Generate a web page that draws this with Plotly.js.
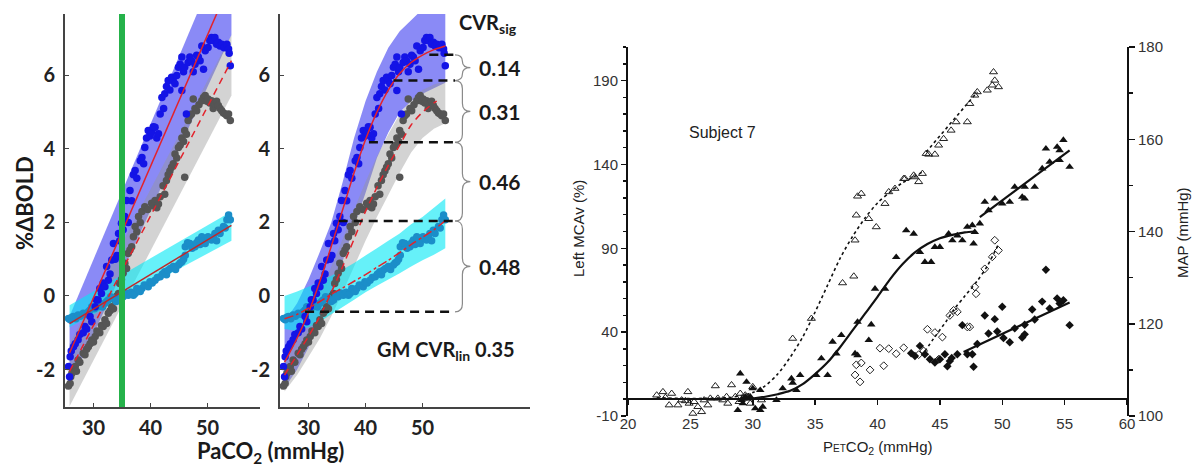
<!DOCTYPE html>
<html><head><meta charset="utf-8">
<script src="https://cdn.plot.ly/plotly-3.0.1.min.js"></script>
<style>html,body{margin:0;padding:0;background:#fff;} #chart{width:1198px;height:466px;}</style>
</head><body><div id="chart"></div>
<script>
// ---------------- Panels A/B : %ΔBOLD vs PaCO2 ----------------
const blueX = [25.6,25.8,25.9,26.1,26.5,26.8,27.3,27.6,28.2,28.5,28.8,29.4,29.7,30.3,30.5,30.8,31.1,31.4,31.7,32,32.3,32.6,32.9,33.2,33.5,33.8,34.1,34.4,34.6,34.9,35.2,35.5,35.8,36.1,36.4,36.7,37.0,37.3,37.6,38.2,38.5,38.8,39,39.3,39.6,39.9,40.2,40.5,40.8,41.1,41.4,41.7,42,42.3,42.5,42.8,43.1,43.4,43.7,44.0,44.3,44.6,44.9,45.2,45.5,45.5,45.8,46,46.3,46.6,46.9,47.2,47.5,47.8,48.1,48.4,48.7,49.0,49.3,49.6,50.1,50.4,50.7,51.0,51.3,51.6,51.9,52.2,52.5,52.9,53.4,53.7,54,53.8];
const blueY = [-1.92,-2.2,-1.65,-1.5,-1.38,-1.3,-1.19,-1.05,-1.0,-0.83,-0.9,-0.56,-0.7,-0.29,-0.1,-0.11,0.2,0.07,0.35,0.25,0.8,0.43,0.6,0.98,1.43,1.0,1.1,1.7,1.5,1.98,1.8,2.16,2.6,2.0,2.87,2.59,3.3,3.41,3.2,3.68,3.77,3.6,4.04,4.3,4.5,4.35,4.45,4.6,4.59,4.3,4.41,4.95,5.4,5.1,5.5,5.7,5.86,5.6,5.95,5.85,5.77,6.0,6.22,6.3,6.5,5.59,6.1,6.22,4.95,6.35,6.5,6.4,6.1,6.3,6.55,6.5,6.4,6.8,6.17,6.67,6.76,6.95,7.03,6.95,7.03,6.85,6.9,6.8,6.85,6.75,6.85,6.72,6.26,6.6];
const grayX = [25.6,25.9,26.0,26.2,26.5,26.8,27.0,27.3,27.6,28.2,28.5,28.8,29.1,29.4,29.7,30.0,30.3,30.6,31.1,31.4,31.7,32,32.3,32.6,32.9,33.2,33.5,33.8,34.1,34.4,34.6,34.9,35.2,35.5,35.8,36.1,36.4,36.7,37,37.3,37.6,37.9,38.2,38.5,39,39.5,40.2,40.5,40.8,41.1,41.4,41.7,42.2,42.5,42.8,43.1,43.4,43.7,44.0,44.3,44.6,44.9,45.2,45.5,45.8,46,46,46.3,46.6,46.9,47.2,47.5,47.8,48.1,48.5,49,49.3,49.6,49.9,50.1,50.4,50.7,51.0,51.3,51.6,51.9,52.2,52.5,52.8,53.1,53.4,53.7,54];
const grayY = [-2.45,-2.38,-2.2,-2.1,-2.0,-1.92,-2.05,-1.74,-1.8,-1.56,-1.6,-1.45,-1.38,-1.3,-1.2,-1.25,-1.1,-0.95,-1.0,-0.8,-0.83,-0.65,-0.75,-0.47,-0.4,-0.29,-0.35,-0.11,0.0,0.07,0.34,0.45,0.62,0.89,0.75,1.16,1.25,1.34,1.61,1.89,1.75,2.16,2.0,2.3,2.43,2.35,2.52,2.45,2.6,2.4,2.5,2.7,3.0,2.77,3.14,3.3,3.4,3.5,3.6,3.86,3.75,4.04,4.1,4.3,4.2,4.5,3.23,4.4,4.77,4.9,4.95,5.36,5.1,5.04,5.2,5.31,5.4,5.45,5.3,5.36,5.25,5.31,5.1,5.22,5.3,5.18,5.1,5.04,4.98,4.95,4.9,4.95,4.77];
const tealX = [25.6,25.9,26.2,26.5,26.9,27.3,27.7,28.2,28.6,29.1,29.4,29.7,30.2,30.8,31.3,31.6,32,32.3,32.6,33.0,33.5,34.0,34.4,34.8,35.2,35.6,36.1,36.6,37.0,37.3,37.6,37.9,38.2,38.5,38.9,39.3,39.6,39.9,40.3,40.8,41.2,41.7,42.1,42.5,42.8,43.1,43.5,44,44.4,44.9,45.2,45.5,45.8,46.1,46.1,46.5,46.9,47.3,47.8,48.1,48.4,48.7,49,49.3,49.6,50.1,50.4,50.7,51,51.3,51.6,51.9,52.2,52.8,53.1,53.4,53.7,54];
const tealY = [-0.61,-0.65,-0.58,-0.56,-0.62,-0.52,-0.55,-0.47,-0.5,-0.43,-0.38,-0.29,-0.35,-0.29,-0.22,-0.3,-0.2,-0.15,-0.11,-0.02,-0.06,-0.15,-0.11,0.0,-0.02,0.08,0.02,0.1,0.02,0.07,0.2,0.16,0.12,0.2,0.3,0.29,0.25,0.39,0.35,0.43,0.5,0.52,0.6,0.66,0.58,0.7,0.75,0.8,0.72,0.84,0.9,0.93,1.0,1.11,1.34,1.45,1.43,1.3,1.34,1.45,1.52,1.4,1.61,1.5,1.43,1.61,1.55,1.52,1.6,1.7,1.5,1.79,1.7,1.89,1.85,2.07,2.2,2.07];

// linear fits (panel A)
const linX = [25.8, 54.2];
const blueLin = [-1.55, 8.6];
const blueLinUp = [-0.55, 9.9];
const blueLinLo = [-2.45, 7.1];
const grayLin = [-2.05, 6.4];
const grayLinUp = [-1.3, 7.1];
const grayLinLo = [-3.0, 5.45];
const tealLin = [-0.75, 1.92];
const tealLinUp = [-0.25, 2.3];
const tealLinLo = [-0.85, 1.5];
const refPaCO2 = 35;

// sigmoid fits (panel B)
const sigX = [25.8,28,30,32,34,36,38,40,42,44,46,48,50,52,54];
const blueSig = [-1.8,-1.15,-0.45,0.4,1.35,2.35,3.35,4.25,5.0,5.6,6.05,6.35,6.55,6.7,6.8];
const blueSigUp = [-0.7,-0.2,0.45,1.2,2.0,3.1,4.3,5.3,6.1,6.75,7.2,7.5,7.8,8.0,8.1];
const blueSigLo = [-2.5,-2.0,-1.4,-0.7,0.0,0.95,1.9,2.8,3.75,4.45,5.0,5.3,5.5,5.65,5.8];
const graySigX = [25.8,28,30,32,34,36,38,40,42,44,46,48,50,52,52.5];
const graySig = [-2.15,-1.6,-1.1,-0.55,0.1,0.8,1.55,2.3,2.95,3.55,4.1,4.65,5.0,5.25,5.3];
const graySigBandX = [25.8,28,30,32,34,36,38,40,42,44,46,48,50,52,54];
const graySigUp = [-1.6,-1.05,-0.5,0.1,0.8,1.55,2.35,3.1,3.8,4.4,4.95,5.35,5.6,5.75,5.85];
const graySigLo = [-2.6,-2.15,-1.65,-1.15,-0.55,0.1,0.8,1.5,2.15,2.75,3.35,3.9,4.3,4.55,4.7];
const tealSig = [-0.62,-0.5,-0.33,-0.15,0.05,0.22,0.4,0.58,0.78,0.97,1.18,1.4,1.6,1.8,2.05];
const tealSigUp = [0.0,0.12,0.25,0.4,0.55,0.72,0.9,1.1,1.3,1.5,1.7,1.95,2.15,2.4,2.65];
const tealSigLo = [-0.9,-0.95,-0.85,-0.7,-0.5,-0.3,-0.1,0.1,0.28,0.45,0.62,0.8,0.97,1.12,1.3];

// CVR_sig levels and values
const levelY = [6.56, 5.86, 4.18, 2.04, -0.43];
const levelStartX = [51.2, 44.9, 40.6, 35.3, 29.4];
const levelEndX = 55.7;
const cvrSigVals = ["0.14", "0.31", "0.46", "0.48"];
const gmCvrLin = "0.35";
const boldTickVals = [-2, 0, 2, 4, 6];
const boldTickText = ["-2", "0", "2", "4", "6"];
const pacoTicks = [30, 40, 50];

// ---------------- Panel C : Subject 7 ----------------
const openTriX = [22.3,22.8,23.0,23.3,23.5,24.0,24.3,24.6,24.8,24.9,25.2,25.3,25.6,25.9,26.1,26.4,26.6,27.0,27.2,27.6,27.9,28.0,28.3,28.6,28.9,29.0,29.2,29.4,29.6,29.8,30.0,30.7,33.2,34.7,37.2,38.1,38.2,38.3,38.4,38.7,39.3,39.9,40.6,40.9,41.4,42.1,42.2,42.9,43.0,43.3,43.6,43.9,44.1,44.6,44.9,45.3,45.9,46.3,47.2,47.4,47.8,48.0,48.8,49.2,49.3,49.4,49.7];
const openTriY = [2.4,4.4,1,-3.5,3.4,-3.5,-0.5,-1,4.4,-2.5,-8.5,-1.5,-4.5,-7.5,-0.5,-3.5,0.5,7.9,0.5,-0.5,1.5,-2.5,8.5,1.5,-1.5,3.4,0.5,2.4,0.5,-2.5,7.4,-0.5,36.2,48.1,69.3,73.3,94.8,109.7,121,122.6,107.6,102.7,116.6,123.6,125.6,131.5,131.5,133.5,132.5,129.6,134.5,146.4,146,146,151.4,155.3,160.3,165.3,165.3,176.2,181.2,183.2,184.2,187.2,195.1,190.1,186.2];
const fillTriX = [28.8,29.0,29.1,29.2,29.4,29.5,29.8,30.0,30.2,30.6,30.6,30.8,31.9,32.4,33.1,33.2,33.5,33.8,35.1,35.5,36.0,36.4,36.7,37.1,38.2,38.4,38.4,39.3,39.5,39.8,40.6,41.5,42.3,42.9,43.4,43.8,44.3,44.6,45.0,45.7,46.0,46.4,46.8,47.2,47.6,47.7,47.8,48.2,48.6,48.9,49.4,50.0,50.6,51.0,51.6,51.8,51.8,52.6,53.2,53.5,53.8,54.4,54.6,54.6,54.9,55.4];
const fillTriY = [-6.5,15.3,-0.5,-2.5,1.5,10.3,1.5,6.4,-5.5,5.4,-6.5,-4.5,-0.5,6.4,12.3,9.8,5.4,14.3,14.3,24.3,14.3,34.2,27.2,38.2,27.2,26.2,46.1,35.2,44.5,65.8,65.8,84.7,100.6,98.6,87.7,81.8,81.8,90.7,90.7,98.6,94.7,97.6,94.7,102.7,103.7,92.7,99.6,104.7,117.6,112.6,119.6,116.6,117.6,126.6,120.6,119.6,126.6,126.6,137.5,149.4,141.5,150.4,148.4,142.5,154.5,138.5];
const openDiaX = [38.2,38.3,38.6,38.7,39.4,40.2,40.5,40.9,41.5,42.1,43.3,43.7,44.0,44.6,44.9,45.2,45.8,46.1,46.4,47.2,47.4,47.8,47.9,48.6,49.2,49.4,49.7];
const openDiaY = [108.9,111.1,107.4,111.5,110,114.7,110.9,114.6,113.5,114.8,113.3,114.1,118.8,118.1,112.3,117.1,121.8,122.9,122.6,119.3,119.3,128,126.5,131.9,134.5,138.1,135.9];
const fillDiaX = [42.7,43.0,43.4,43.8,44.2,44.6,45.0,45.4,45.6,45.8,45.95,46.4,46.8,47.2,47.6,47.7,48.0,48.6,48.9,49.4,49.6,50.0,50.1,50.6,51.0,51.6,51.8,51.8,52.4,52.6,53.2,53.5,53.8,54.4,54.6,54.9,55.4];
const fillDiaY = [113.6,113,115.2,113.4,112.3,111.6,112.3,113.4,110.8,111.9,112.6,113.4,119.7,113.4,113.4,110.7,115.6,121.8,117.9,121,118.3,123.7,116.9,116,119,117,117.7,119.8,123.1,120.9,124.8,131.7,123.3,125.5,124.4,125.1,119.7];
// fitted curves
const openTriFitX = [22.3,24,26,28,29,30,31,32,33,34,35,36,37,38,39,40,41,42,43,43.6];
const openTriFitY = [1,0.5,0.5,1,2,4,8,15,25,37,52,68,84,97,108,117,123.5,129,133,135.5];
const openTriFit2X = [43.9, 48.0];
const openTriFit2Y = [147.4, 183.2];
const fillTriFitX = [29.5,30,31,32,33,34,35,36,37,38,39,40,41,42,43,44,45,46,47,47.8];
const fillTriFitY = [0,0.5,1.5,3,5,9,15,22,31,41,51,61,71.5,80.5,87.5,92.5,96,98,99.5,100];
const fillTriFit2X = [48.2, 55.4];
const fillTriFit2Y = [108.6, 148.4];
const openDiaFitX = [43.8,44.5,45.5,46.1,47,48,48.8,49.7];
const openDiaFitY = [114,116.8,120.5,123,126,129.3,132.5,137.3];
const fillDiaFitX = [46.9, 55.4];
const fillDiaFitY = [113.9, 124.6];
const petTicks = [20,25,30,35,40,45,50,55,60];
const mcaTicks = [-10,40,90,140,190];
const mapTicks = [100,120,140,160,180];

// ---------------- build ----------------
const W = 1198, H = 466;
const fx = p => p / W;
const fy = p => 1 - p / H;
const BF = 'Lato, "Open Sans", sans-serif';
const AF = '"Liberation Sans", Arial, sans-serif';

function band(xs, up, lo, color, xa, ya) {
  return {x: xs.concat(xs.slice().reverse()), y: up.concat(lo.slice().reverse()),
    fill: 'toself', fillcolor: color, mode: 'none', line: {width: 0},
    xaxis: xa, yaxis: ya, hoverinfo: 'skip', showlegend: false};
}
function dots(xs, ys, color, xa, ya) {
  return {x: xs, y: ys, mode: 'markers', marker: {color: color, size: 7.5},
    xaxis: xa, yaxis: ya, showlegend: false};
}
function line(xs, ys, color, dash, width, xa, ya) {
  return {x: xs, y: ys, mode: 'lines', line: {color: color, dash: dash, width: width, shape: 'spline', smoothing: 0.8},
    xaxis: xa, yaxis: ya, showlegend: false};
}
const cBlueBand = 'rgba(60,60,240,0.6)';
const cGrayBand = 'rgba(150,150,150,0.42)';
const cTealBand = 'rgba(0,232,245,0.6)';
const cBlue = '#1414e6', cGray = '#555555', cTeal = '#1b8ec9', cRed = '#e3222b';

const traces = [
  band(linX, blueLinUp, blueLinLo, cBlueBand, 'x', 'y'),
  band(linX, grayLinUp, grayLinLo, cGrayBand, 'x', 'y'),
  band(linX, tealLinUp, tealLinLo, cTealBand, 'x', 'y'),
  dots(grayX, grayY, cGray, 'x', 'y'),
  dots(tealX, tealY, cTeal, 'x', 'y'),
  dots(blueX, blueY, cBlue, 'x', 'y'),
  line(linX, blueLin, cRed, 'solid', 1.5, 'x', 'y'),
  line(linX, grayLin, cRed, '7px,5px', 1.5, 'x', 'y'),
  line(linX, tealLin, '#c0282a', 'solid', 1.5, 'x', 'y'),

  band(sigX, blueSigUp, blueSigLo, cBlueBand, 'x2', 'y2'),
  band(graySigBandX, graySigUp, graySigLo, cGrayBand, 'x2', 'y2'),
  band(sigX, tealSigUp, tealSigLo, cTealBand, 'x2', 'y2'),
  dots(grayX, grayY, cGray, 'x2', 'y2'),
  dots(tealX, tealY, cTeal, 'x2', 'y2'),
  dots(blueX, blueY, cBlue, 'x2', 'y2'),
  line(sigX, blueSig, cRed, 'solid', 1.5, 'x2', 'y2'),
  line(graySigX, graySig, cRed, '7px,5px', 1.5, 'x2', 'y2'),
  line(sigX, tealSig, cRed, 'dashdot', 1.5, 'x2', 'y2'),

  {x: openTriFitX, y: openTriFitY, mode: 'lines', line: {color: '#111', dash: 'dot', width: 1.6, shape: 'spline', smoothing: 0.8}, xaxis: 'x3', yaxis: 'y3', showlegend: false},
  {x: openTriFit2X, y: openTriFit2Y, mode: 'lines', line: {color: '#111', dash: 'dot', width: 1.6}, xaxis: 'x3', yaxis: 'y3', showlegend: false},
  {x: fillTriFitX, y: fillTriFitY, mode: 'lines', line: {color: '#111', width: 2.2, shape: 'spline', smoothing: 0.8}, xaxis: 'x3', yaxis: 'y3', showlegend: false},
  {x: fillTriFit2X, y: fillTriFit2Y, mode: 'lines', line: {color: '#111', width: 2.2}, xaxis: 'x3', yaxis: 'y3', showlegend: false},
  {x: openTriX, y: openTriY, mode: 'markers', marker: {symbol: 'triangle-up-open', size: 7, color: '#222', line: {width: 1}}, xaxis: 'x3', yaxis: 'y3', showlegend: false},
  {x: fillTriX, y: fillTriY, mode: 'markers', marker: {symbol: 'triangle-up', size: 7.5, color: '#111'}, xaxis: 'x3', yaxis: 'y3', showlegend: false},
  {x: openDiaFitX, y: openDiaFitY, mode: 'lines', line: {color: '#111', dash: 'dot', width: 1.6, shape: 'spline', smoothing: 0.8}, xaxis: 'x3', yaxis: 'y4', showlegend: false},
  {x: fillDiaFitX, y: fillDiaFitY, mode: 'lines', line: {color: '#111', width: 2.2}, xaxis: 'x3', yaxis: 'y4', showlegend: false},
  {x: openDiaX, y: openDiaY, mode: 'markers', marker: {symbol: 'diamond-open', size: 6, color: '#222', line: {width: 1}}, xaxis: 'x3', yaxis: 'y4', showlegend: false},
  {x: fillDiaX, y: fillDiaY, mode: 'markers', marker: {symbol: 'diamond', size: 6.5, color: '#111'}, xaxis: 'x3', yaxis: 'y4', showlegend: false}
];

const boldTick = {family: BF, size: 20, color: '#222', weight: 700};
function boldX(dom) {
  return {domain: dom, range: [25, 25 + (dom[1]-dom[0]) * W / 5.7], tickvals: pacoTicks, ticktext: pacoTicks.map(String),
    showline: true, linecolor: '#444', linewidth: 2, ticks: 'inside', ticklen: 4, tickcolor: '#444', ticklabelstandoff: 2,
    showgrid: false, zeroline: false, tickfont: boldTick, fixedrange: true};
}
function boldY(anchor) {
  return {domain: [fy(407), fy(14)], range: [-3.02, 7.67], tickvals: boldTickVals, ticktext: boldTickText,
    showline: true, linecolor: '#444', linewidth: 2, ticks: 'inside', ticklen: 4, tickcolor: '#444',
    showgrid: false, zeroline: false, tickfont: boldTick, anchor: anchor, ticklabelstandoff: 4, fixedrange: true};
}

const shapes = [
  {type: 'line', xref: 'x', yref: 'y domain', x0: refPaCO2, x1: refPaCO2, y0: 0, y1: 1, line: {color: '#25b24a', width: 6}}
];
levelY.forEach((y, i) => {
  shapes.push({type: 'line', xref: 'x2', yref: 'y2', x0: levelStartX[i], x1: levelEndX, y0: y, y1: y,
    line: {color: '#111', width: 2.4, dash: '9px,6px'}});
});
function bracePath(yt, yb) {
  const x0 = levelEndX, xs = levelEndX + 1.3, xt = levelEndX + 2.7;
  const ym = (yt + yb) / 2, r = Math.min(0.22, (yt - yb) / 4);
  return `M${x0},${yt} Q${xs},${yt} ${xs},${yt - r} L${xs},${ym + r} Q${xs},${ym} ${xt},${ym} Q${xs},${ym} ${xs},${ym - r} L${xs},${yb + r} Q${xs},${yb} ${x0},${yb}`;
}
const C = {xanchor: 'center', yanchor: 'middle', showarrow: false};
const annotations = [];
for (let i = 0; i < cvrSigVals.length; i++) {
  shapes.push({type: 'path', xref: 'x2', yref: 'y2', path: bracePath(levelY[i], levelY[i + 1]), line: {color: '#8a8a8a', width: 1.2}});
  annotations.push(Object.assign({xref: 'x2', yref: 'y2', x: 63.6, y: (levelY[i] + levelY[i + 1]) / 2, text: cvrSigVals[i],
    font: {family: BF, size: 21, color: '#1a1a1a', weight: 700}}, C));
}
annotations.push(
  Object.assign({xref: 'x2', yref: 'y2', x: 61.5, y: 7.42, text: 'CVR<sub>sig</sub>', font: {family: BF, size: 20, color: '#1a1a1a', weight: 700}}, C),
  Object.assign({xref: 'x2', yref: 'y2', x: 54.2, y: -1.47, text: 'GM CVR<sub>lin</sub> ' + gmCvrLin, font: {family: BF, size: 20, color: '#1a1a1a', weight: 700}}, C),
  Object.assign({xref: 'paper', yref: 'paper', x: fx(24), y: fy(203), text: '%ΔBOLD', textangle: -90, font: {family: BF, size: 22, color: '#1a1a1a', weight: 700}}, C),
  Object.assign({xref: 'paper', yref: 'paper', x: fx(270), y: fy(452), text: 'PaCO<sub>2</sub> (mmHg)', font: {family: BF, size: 22, color: '#1a1a1a', weight: 700}}, C),
  Object.assign({xref: 'x3', yref: 'y3', x: 27.6, y: 159, text: 'Subject 7', font: {family: AF, size: 16, color: '#222'}}, C),
  Object.assign({xref: 'paper', yref: 'paper', x: fx(578), y: fy(229), text: 'Left MCAv (%)', textangle: -90, font: {family: AF, size: 15, color: '#222'}}, C),
  Object.assign({xref: 'paper', yref: 'paper', x: fx(1182), y: fy(233), text: 'MAP (mmHg)', textangle: -90, font: {family: AF, size: 15, color: '#222'}}, C),
  Object.assign({xref: 'paper', yref: 'paper', x: fx(877), y: fy(447), text: 'P<span style="font-size:10px">ET</span>CO<sub>2</sub> (mmHg)', font: {family: AF, size: 15, color: '#222'}}, C)
);

const layout = {
  width: W, height: H, margin: {l: 0, r: 0, t: 0, b: 0}, paper_bgcolor: '#fff', plot_bgcolor: 'rgba(0,0,0,0)',
  showlegend: false,
  xaxis: boldX([fx(65), fx(260)]), yaxis: boldY('x'),
  xaxis2: boldX([fx(280), fx(530)]), yaxis2: boldY('x2'),
  xaxis3: {domain: [fx(628), fx(1127)], range: [20, 60], anchor: 'free', position: fy(399),
    tickvals: petTicks, ticktext: petTicks.map(String), showline: true, linecolor: '#111', linewidth: 2,
    ticks: 'outside', ticklen: 5, tickwidth: 1.5, tickcolor: '#111', ticklabelstandoff: 6,
    tickfont: {family: AF, size: 15, color: '#333'}, showgrid: false, zeroline: false, fixedrange: true},
  yaxis3: {domain: [fy(416), fy(47)], range: [-10, 210], anchor: 'x3', side: 'left',
    tickvals: mcaTicks, ticktext: mcaTicks.map(String), showline: true, linecolor: '#111', linewidth: 2,
    ticks: 'outside', ticklen: 5, tickwidth: 1.5, tickcolor: '#111',
    minor: {dtick: 10, tick0: -10, ticklen: 3, tickcolor: '#111', ticks: 'outside'},
    tickfont: {family: AF, size: 15, color: '#333'}, showgrid: false, zeroline: false, fixedrange: true},
  yaxis4: {domain: [fy(416), fy(47)], range: [100, 180], anchor: 'x3', overlaying: 'y3', side: 'right',
    tickvals: mapTicks, ticktext: mapTicks.map(String), showline: true, linecolor: '#111', linewidth: 2,
    ticks: 'outside', ticklen: 6, tickwidth: 1.5, tickcolor: '#111',
    minor: {dtick: 10, tick0: 100, ticklen: 4, tickcolor: '#111', ticks: 'outside'},
    tickfont: {family: AF, size: 15, color: '#333'}, showgrid: false, zeroline: false, fixedrange: true},
  shapes: shapes, annotations: annotations
};
Plotly.newPlot('chart', traces, layout, {displayModeBar: false, staticPlot: true});
</script></body></html>
